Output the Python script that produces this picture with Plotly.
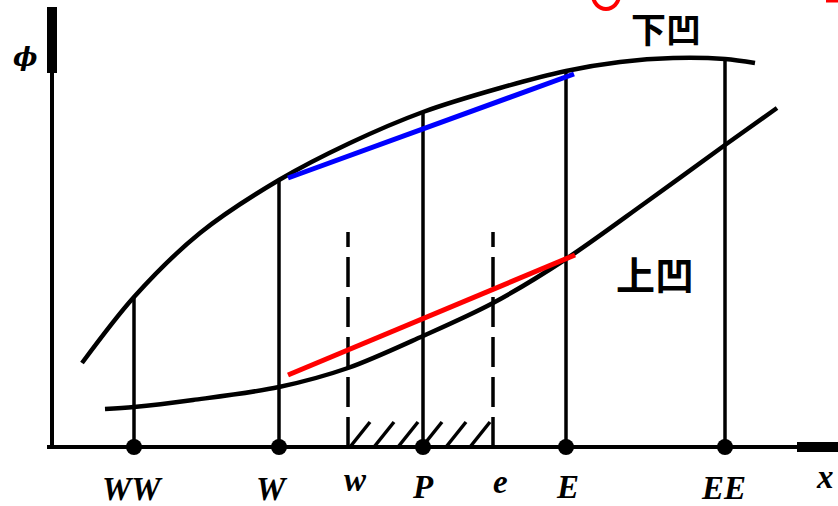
import numpy as np
import plotly.graph_objects as go

# ---- data (x measured from the phi axis, phi measured up from the x axis) ----
node_labels = ["WW", "W", "w", "P", "e", "E", "EE"]
node_x = [82, 227, 296, 371, 441, 514, 673]
solid_nodes = ["WW", "W", "P", "E", "EE"]
dashed_nodes = ["w", "e"]

upper_x = [30, 82, 148, 227, 298, 371, 448, 514, 568, 621, 673, 703]
upper_phi = [84, 150, 214, 267, 304, 335, 359, 376, 385, 389, 388, 384]

lower_x = [53, 82, 141, 227, 296, 371, 441, 514, 593, 673, 725]
lower_phi = [38, 40, 47, 60, 79, 111, 144, 188, 244, 302, 339]

blue_x = [236, 522]
blue_phi = [269, 373]
red_x = [236, 523]
red_phi = [72, 192]

dashed_top = 215
hatch_height = 25
hatch_step = 24

node_pos = dict(zip(node_labels, node_x))

fig = go.Figure()

def add_line(xs, ys, color="black", width=4, dash=None, shape="linear", smoothing=1.0):
    line = dict(color=color, width=width, dash=dash, shape=shape)
    if shape == "spline":
        line["smoothing"] = smoothing
    fig.add_trace(go.Scatter(x=xs, y=ys, mode="lines", line=line,
                             hoverinfo="skip", showlegend=False))

# axes
add_line([-5, 786], [0, 0], width=4)
add_line([745, 786], [0, 0], width=10)
add_line([0, 0], [0, 440], width=4)
add_line([0, 0], [374, 440], width=10)

# vertical grid lines to the upper curve
vx, vy = [], []
for n in solid_nodes:
    x = node_pos[n]
    top = float(np.interp(x, upper_x, upper_phi))
    vx += [x, x, None]
    vy += [0, top, None]
add_line(vx, vy, width=3.5)

# dashed face lines
dx, dy = [], []
for n in dashed_nodes:
    x = node_pos[n]
    dx += [x, x, None]
    dy += [0, dashed_top, None]
add_line(dx, dy, width=3.5, dash="30px,10px")

# hatching between w and e
x_w, x_e = node_pos["w"], node_pos["e"]
hx, hy = [], []
slope = hatch_height / 20.0
start = x_w + 2
while start < x_e:
    x0, y0 = start, 0.0
    x1, y1 = start + 20, hatch_height
    if x1 > x_e:
        y1 = (x_e - x0) * slope
        x1 = x_e
    hx += [x0, x1, None]
    hy += [y0, y1, None]
    start += hatch_step
add_line(hx, hy, width=3.5)

# curves
add_line(upper_x, upper_phi, width=4.5, shape="spline", smoothing=0.9)
add_line(lower_x, lower_phi, width=4.5, shape="spline", smoothing=0.9)

# chords
add_line(blue_x, blue_phi, color="#0000ff", width=5)
add_line(red_x, red_phi, color="#ff0000", width=5)

# node dots
fig.add_trace(go.Scatter(x=[node_pos[n] for n in solid_nodes], y=[0] * len(solid_nodes),
                         mode="markers", marker=dict(color="black", size=16),
                         hoverinfo="skip", showlegend=False))

# labels
label_font = dict(family="Liberation Serif", size=33, color="black", weight="bold", style="italic")
label_pos = {"WW": (80, -42), "W": (220, -42), "w": (303, -33), "P": (371, -40),
             "e": (448, -35), "E": (515, -40), "EE": (671, -41)}
for t, (x, y) in label_pos.items():
    fig.add_annotation(x=x, y=y, text=t, showarrow=False, font=label_font,
                       xanchor="center", yanchor="middle")
fig.add_annotation(x=773, y=-30, text="x", showarrow=False, font=label_font)
fig.add_annotation(x=-27, y=390, text="ϕ", showarrow=False,
                   font=dict(family="DejaVu Serif", size=26, color="black",
                             weight="bold", style="italic"))

fig.add_annotation(x=614, y=420, text="下凹", showarrow=False,
                   font=dict(family="Noto Sans CJK SC", size=35, color="black", weight="bold"))
fig.add_annotation(x=603, y=174, text="上凹", showarrow=False,
                   font=dict(family="Noto Sans CJK SC", size=39, color="black", weight="bold"))

# red fragments at the top edge
fig.add_shape(type="circle", x0=541, x1=567, y0=438, y1=466,
              line=dict(color="#ff0000", width=4))
fig.add_shape(type="line", x0=774, x1=786, y0=446, y1=446,
              line=dict(color="#ff0000", width=3))

fig.update_layout(
    width=838, height=506,
    margin=dict(l=0, r=0, t=0, b=0),
    paper_bgcolor="white", plot_bgcolor="white",
    xaxis=dict(range=[-52, 786], visible=False, fixedrange=True),
    yaxis=dict(range=[-59, 447], visible=False, fixedrange=True),
)

fig.write_html("out.html", config={"displayModeBar": False},
               post_script="document.body.style.margin='0';")
